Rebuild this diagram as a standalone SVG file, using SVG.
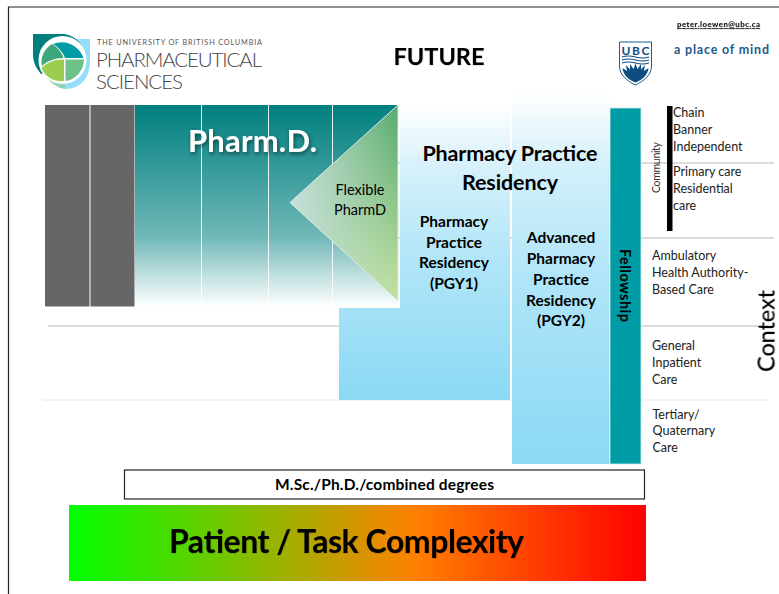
<svg xmlns="http://www.w3.org/2000/svg" width="779" height="594" viewBox="0 0 779 594">
<defs>
<linearGradient id="teal" x1="0" y1="0" x2="0" y2="1"><stop offset="0" stop-color="#007f7f"/><stop offset="0.65" stop-color="#6fb7b7"/><stop offset="1" stop-color="#ffffff"/></linearGradient>
<linearGradient id="triGreen" x1="0" y1="0" x2="0" y2="1"><stop offset="0" stop-color="#55a96f"/><stop offset="1" stop-color="#c4e2a0"/></linearGradient>
<linearGradient id="triFade" x1="0" y1="0" x2="1" y2="0"><stop offset="0" stop-color="#c6dfdc" stop-opacity="1"/><stop offset="1" stop-color="#c6dfdc" stop-opacity="0"/></linearGradient>
<linearGradient id="blue1" gradientUnits="userSpaceOnUse" x1="0" y1="105" x2="0" y2="400"><stop offset="0" stop-color="#ffffff"/><stop offset="0.2" stop-color="#d8f1fa"/><stop offset="0.5" stop-color="#b3e6f8"/><stop offset="1" stop-color="#8bd9f4"/></linearGradient>
<linearGradient id="blue2" gradientUnits="userSpaceOnUse" x1="0" y1="92" x2="0" y2="464"><stop offset="0" stop-color="#ffffff"/><stop offset="0.2" stop-color="#d4f0fa"/><stop offset="0.5" stop-color="#b0e5f8"/><stop offset="1" stop-color="#8bd9f4"/></linearGradient>
<linearGradient id="heat" x1="0" y1="0" x2="1" y2="0"><stop offset="0" stop-color="#00ff00"/><stop offset="0.6" stop-color="#ff8000"/><stop offset="1" stop-color="#ff0000"/></linearGradient>
<filter id="sh" x="-20%" y="-30%" width="140%" height="170%"><feDropShadow dx="1" dy="2" stdDeviation="2" flood-color="#000" flood-opacity="0.55"/></filter>
<filter id="sh2" x="-10%" y="-10%" width="120%" height="120%"><feDropShadow dx="0.4" dy="0.4" stdDeviation="0.6" flood-color="#000" flood-opacity="0.3"/></filter>
</defs>
<style>
text{font-family:"Lato","Open Sans","Liberation Sans",sans-serif;fill:#000}
.b{font-weight:700}
.m{text-anchor:middle}
.ctx{font-size:12.5px;fill:#222}
.res{font-size:15.500px;font-weight:700;text-anchor:middle}
.rule{stroke:#d0d0d0;stroke-width:1.5;fill:none}
.vl{stroke:#fff;stroke-width:1;opacity:.9}
</style>
<rect width="779" height="594" fill="#fff"/>
<path id="frame" d="M779 7H8.5V594" fill="none" stroke="#222" stroke-width="1.2"/>

<g id="rules">
<path class="rule" d="M398 163H774M398 238H774M48 326H340M641 326H762"/>
<path class="rule" d="M43 400H768" style="stroke:#e8e8e8;stroke-width:1"/>
</g>

<g id="logo-pharmsci">
<path d="M66 39H90V62C90 78 80 89 65 89V60Z" fill="#96dcfb"/>
<path d="M33 34H62C74 34 84 44 84 56L50 72L41 74C36 68 33 62 33 55Z" fill="#007f7d"/>
<path d="M39 68L46 77C50 82 57 88 65 89V81C55 81 46 76 39 68Z" fill="#8ed3b5"/>
<circle cx="62.500" cy="60" r="24" fill="#fff"/>
<path d="M53 44A23 23 0 0 1 83.500 58H65C63 52 58 47 53 44Z" fill="#009ca6"/>
<path d="M52 44C57 47 62 52 63.500 58C55 58 47 61 42 66C40 58 44 49 52 44Z" fill="#3fa77c"/>
<path d="M41.500 68C47 62 55 59.500 64 59.500V81C54 82 45 77 41.500 68Z" fill="#9ccc50"/>
<path d="M65.500 59.500H84A22 22 0 0 1 65.500 81Z" fill="#6ec188"/>
<text x="97" y="45" style="font-size:7.300px;fill:#555" textLength="165">THE UNIVERSITY OF BRITISH COLUMBIA</text>
<text x="96" y="67" style="font-size:20.500px;font-weight:300;fill:#444" textLength="166">PHARMACEUTICAL</text>
<text x="96" y="89" style="font-size:20.500px;font-weight:300;fill:#444" textLength="87">SCIENCES</text>
</g>

<g id="title"><text class="b m" x="439" y="65" style="font-size:23.500px" filter="url(#sh2)">FUTURE</text></g>

<g id="contact"><text class="b" x="677" y="27" style="font-size:7.800px;text-decoration:underline;fill:#111" textLength="83" filter="url(#sh2)">peter.loewen@ubc.ca</text></g>

<g id="ubc-crest">
<path d="M619.500 42H651.500V66C651.500 75 644 81 635.500 85C627 81 619.500 75 619.500 66Z" fill="#fff" stroke="#1f5a8a" stroke-width="1"/>
<text class="b m" x="635.500" y="54.500" style="font-size:12px;fill:#0f4c81" textLength="28">UBC</text>
<path d="M622 57Q628 55 635.500 57T649 57M622 60Q628 58 635.500 60T649 60M622 63Q628 61 635.500 63T649 63" fill="none" stroke="#0f4c81" stroke-width="1.100"/>
<path d="M622.500 68L627 71L626 65L630 69.500L630 64L633.500 69L635.500 63.500L637.500 69L641 64L641 69.500L645 65L644 71L648.500 68C648 75 642 80 635.500 82.500C629 80 623 75 622.500 68Z" fill="#0f4c81"/>
</g>
<g id="tagline"><text class="b" x="674" y="54" style="font-size:12.500px;fill:#1f5a8a" textLength="95">a place of mind</text></g>

<g id="pre-pharmacy">
<rect x="45" y="105" width="44.500" height="201.500" fill="#666"/>
<rect x="90.500" y="105" width="44" height="201.500" fill="#666"/>
</g>

<g id="pharmd">
<rect x="135" y="105" width="263" height="201.500" fill="url(#teal)"/>
<path class="vl" d="M201.500 105V306M268.500 105V306M332.500 105V306"/>
<text class="b" x="188" y="152" style="font-size:31px;fill:#fff" textLength="129" filter="url(#sh)">Pharm.D.</text>
</g>

<g id="flexible-pharmd">
<path d="M398 105V301L290 202.500Z" fill="url(#triGreen)"/>
<path d="M398 105V301L290 202.500Z" fill="url(#triFade)" stroke="#d9ece2" stroke-width="1"/>
<text class="m" x="360" y="195" style="font-size:14.500px">Flexible</text>
<text class="m" x="360" y="215" style="font-size:14.500px">PharmD</text>
</g>

<g id="pgy1">
<rect x="339" y="308" width="61" height="92" fill="url(#blue1)"/>
<rect x="400" y="105" width="110" height="295" fill="url(#blue1)"/>
</g>
<g id="pgy2"><rect x="512" y="92" width="97.500" height="372" fill="url(#blue2)"/></g>

<g id="residency-labels">
<text class="b m" x="510" y="161" style="font-size:21.500px" textLength="175">Pharmacy Practice</text>
<text class="b m" x="510" y="190" style="font-size:21.500px" textLength="96">Residency</text>
<text class="res" x="454" y="227">Pharmacy</text>
<text class="res" x="454" y="248">Practice</text>
<text class="res" x="454" y="268">Residency</text>
<text class="res" x="454" y="289">(PGY1)</text>
<text class="res" x="561" y="243">Advanced</text>
<text class="res" x="561" y="264">Pharmacy</text>
<text class="res" x="561" y="285">Practice</text>
<text class="res" x="561" y="306">Residency</text>
<text class="res" x="561" y="326">(PGY2)</text>
</g>

<g id="fellowship">
<rect x="610" y="108" width="31" height="356" fill="#009ca6" stroke="#cfeef0" stroke-width="0.800"/>
<text class="b" transform="translate(619.500 249) rotate(90)" style="font-size:14.500px" textLength="73">Fellowship</text>
</g>

<g id="context">
<rect x="667" y="106" width="5.500" height="125" fill="#000"/>
<text transform="translate(660 193) rotate(-90)" style="font-size:10.500px;fill:#333" textLength="51">Community</text>
<text class="ctx" x="673" y="117">Chain</text>
<text class="ctx" x="673" y="134">Banner</text>
<text class="ctx" x="673" y="151">Independent</text>
<text class="ctx" x="673" y="176">Primary care</text>
<text class="ctx" x="673" y="193">Residential</text>
<text class="ctx" x="673" y="210">care</text>
<text class="ctx" x="652" y="260">Ambulatory</text>
<text class="ctx" x="652" y="277">Health Authority-</text>
<text class="ctx" x="652" y="294">Based Care</text>
<text class="ctx" x="652" y="350">General</text>
<text class="ctx" x="652" y="367">Inpatient</text>
<text class="ctx" x="652" y="384">Care</text>
<text class="ctx" x="652.500" y="419">Tertiary/</text>
<text class="ctx" x="652.500" y="435">Quaternary</text>
<text class="ctx" x="652.500" y="452">Care</text>
<text transform="translate(774.500 372) rotate(-90)" style="font-size:23.500px" textLength="82" filter="url(#sh2)">Context</text>
</g>

<g id="graduate-degrees">
<rect x="124.500" y="470" width="520" height="29" fill="#fff" stroke="#222" stroke-width="1.200"/>
<text class="b m" x="384.500" y="490" style="font-size:15.500px" textLength="219">M.Sc./Ph.D./combined degrees</text>
</g>

<g id="complexity-bar">
<rect x="69" y="505" width="577" height="76" fill="url(#heat)"/>
<text class="b m" x="346.500" y="553" style="font-size:32px" textLength="355" filter="url(#sh2)">Patient / Task Complexity</text>
</g>
</svg>
